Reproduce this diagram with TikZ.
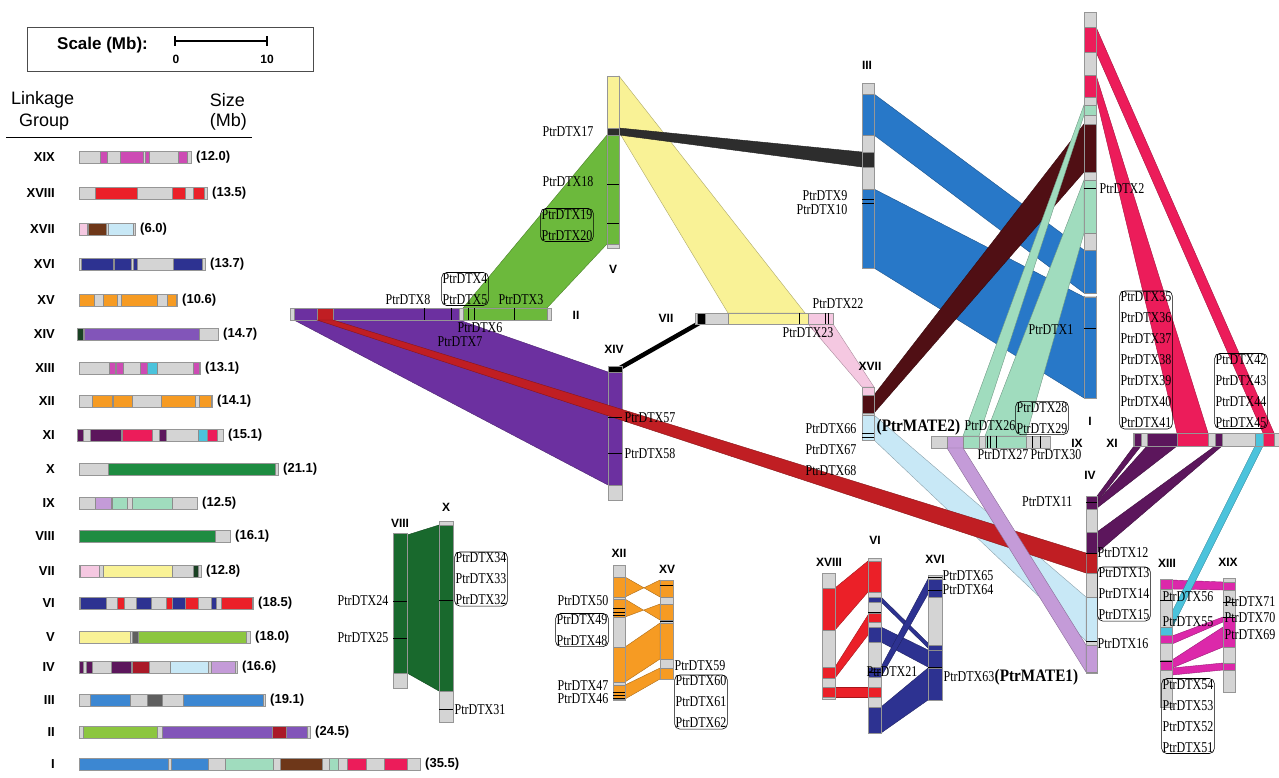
\documentclass[tikz,border=0pt]{standalone}
\usepackage{fontspec}
\setmainfont{Liberation Serif}
\newfontfamily\lsans{Liberation Sans}
\newfontfamily\gfont[FakeStretch=0.8]{Liberation Serif}
\newfontfamily\mfont[FakeStretch=0.87]{Liberation Serif}
\definecolor{cgray}{RGB}{212,212,212}
\definecolor{cgrayd}{RGB}{150,150,150}
\definecolor{cmag}{RGB}{205,75,180}
\definecolor{cmagd}{RGB}{220,40,170}
\definecolor{cred}{RGB}{235,32,40}
\definecolor{cpink}{RGB}{245,200,225}
\definecolor{cbrownl}{RGB}{110,55,25}
\definecolor{cbrown}{RGB}{80,15,20}
\definecolor{clblue}{RGB}{200,232,246}
\definecolor{cdblue}{RGB}{45,50,145}
\definecolor{corange}{RGB}{246,155,35}
\definecolor{cdgreen}{RGB}{25,65,35}
\definecolor{cpurl}{RGB}{130,85,185}
\definecolor{cpur}{RGB}{108,48,160}
\definecolor{ccyan}{RGB}{75,195,220}
\definecolor{cdpur}{RGB}{92,22,92}
\definecolor{chot}{RGB}{236,28,90}
\definecolor{cgreenl}{RGB}{30,140,65}
\definecolor{cgreen}{RGB}{25,105,45}
\definecolor{clilac}{RGB}{196,155,216}
\definecolor{cmint}{RGB}{160,220,190}
\definecolor{cyel}{RGB}{249,242,150}
\definecolor{cdgray}{RGB}{95,95,95}
\definecolor{clime}{RGB}{140,198,63}
\definecolor{climed}{RGB}{108,185,60}
\definecolor{cdred}{RGB}{170,25,40}
\definecolor{cdredd}{RGB}{192,30,35}
\definecolor{cblue}{RGB}{60,135,210}
\definecolor{cblued}{RGB}{40,120,200}
\definecolor{cblack}{RGB}{45,45,45}
\newcommand\lgrow[6]{%
 \fill[cgray] (#3,#2-6) rectangle (#4,#2+6);
 \foreach \sa/\sb/\sc in {#6}{\fill[sg=\sc] (\sa,#2-6) rectangle (\sb,#2+6);}
 \draw[chrbar] (#3,#2-6) rectangle (#4,#2+6);
 \node[lgr] (lr#2) at (55,#2) {#1};
 \node[lgs] (ls#2) at (#4+5,#2) {#5};}
\newcommand\chV[5]{%
 \fill[cgray] (#1,#3) rectangle (#2,#4);
 \foreach \sa/\sb/\sc in {#5}{\fill[sg=\sc] (#1,\sa) rectangle (#2,\sb);}
 \draw[chrbar] (#1,#3) rectangle (#2,#4);}
\newcommand\chH[5]{%
 \fill[cgray] (#1,#3) rectangle (#2,#4);
 \foreach \sa/\sb/\sc in {#5}{\fill[sg=\sc] (\sa,#3) rectangle (\sb,#4);}
 \draw[chrbar] (#1,#3) rectangle (#2,#4);}
\newcommand\tkv[3]{\draw[tk] (#1,#3) -- (#2,#3);}
\newcommand\tkh[3]{\draw[tk] (#3,#1) -- (#3,#2);}
\begin{document}
\begin{tikzpicture}[x=1pt,y=-1pt,
 chrbar/.style={draw=cgrayd,line width=0.6pt},
 sg/.style={fill=#1,draw=black!45,line width=0.3pt},
 rib/.style={fill=#1,draw=#1!70!black,line width=0.4pt},
 tk/.style={draw=black,line width=0.8pt},
 gl/.style={font=\gfont\fontsize{15}{17}\selectfont,inner sep=0.5pt},
 gbox/.style={draw,rounded corners=5pt,inner sep=1pt,align=center,font=\gfont\fontsize{15}{21}\selectfont,line width=0.6pt},
 mate/.style={font=\mfont\bfseries\fontsize{17.5}{19}\selectfont,inner sep=0.5pt},
 rl/.style={font=\lsans\bfseries\fontsize{12}{14}\selectfont,inner sep=0pt},
 lgr/.style={font=\lsans\bfseries\fontsize{13}{15}\selectfont,anchor=east,inner sep=0pt},
 lgs/.style={font=\lsans\bfseries\fontsize{13}{15}\selectfont,anchor=west,inner sep=0pt}]
\useasboundingbox (0,0) rectangle (1279,777);
\fill[white] (0,0) rectangle (1279,777);
% ---------- legend ----------
\draw[line width=0.8pt,black!70] (27,27) rectangle (313,71);
\node[font=\lsans\bfseries\fontsize{17}{19}\selectfont,anchor=west,inner sep=0pt] (scl) at (57,45) {Scale (Mb):};
\draw[line width=1.6pt] (175,41) -- (267,41);
\draw[line width=1.4pt] (175,36) -- (175,46) (267,36) -- (267,46);
\node[font=\lsans\bfseries\fontsize{12}{14}\selectfont,inner sep=0pt] (s0) at (176,59) {0};
\node[font=\lsans\bfseries\fontsize{12}{14}\selectfont,inner sep=0pt] (s10) at (267,59) {10};
\node[font=\lsans\fontsize{18}{20}\selectfont,anchor=west,inner sep=0pt] (lk) at (11,100) {Linkage};
\node[font=\lsans\fontsize{18}{20}\selectfont,anchor=west,inner sep=0pt] (gp) at (19,122) {Group};
\node[font=\lsans\fontsize{18}{20}\selectfont,anchor=east,inner sep=0pt] (sz) at (245,100) {Size};
\node[font=\lsans\fontsize{18}{20}\selectfont,anchor=east,inner sep=0pt] (mb) at (247,122) {(Mb)};
\draw[line width=1pt] (6,137) -- (252,137);
\lgrow{XIX}{157}{79}{191}{(12.0)}{100/107/cmag,120/143/cmag,145/149/cmag,178/187/cmag}
\lgrow{XVIII}{193}{79}{207}{(13.5)}{95/137/cred,172/185/cred,193/204/cred}
\lgrow{XVII}{229}{79}{135}{(6.0)}{79/87/cpink,88/106/cbrownl,108/133/clblue}
\lgrow{XVI}{264}{79}{205}{(13.7)}{81/113/cdblue,114/131/cdblue,133/137/cdblue,173/202/cdblue}
\lgrow{XV}{300}{79}{177}{(10.6)}{79/94/corange,103/117/corange,121/157/corange,167/176/corange}
\lgrow{XIV}{334}{77}{218}{(14.7)}{77/83/cdgreen,84/199/cpurl}
\lgrow{XIII}{368}{79}{200}{(13.1)}{109/115/cmag,116/123/cmag,140/147/cmag,147/157/ccyan,193/199/cmag}
\lgrow{XII}{401}{79}{212}{(14.1)}{92/112/corange,113/132/corange,161/195/corange,199/211/corange}
\lgrow{XI}{435}{77}{223}{(15.1)}{77/83/cdpur,90/121/cdpur,122/152/chot,159/166/cdpur,198/207/ccyan,207/217/chot}
\lgrow{X}{469}{79}{278}{(21.1)}{108/275/cgreenl}
\lgrow{IX}{503}{79}{197}{(12.5)}{95/111/clilac,112/127/cmint,132/172/cmint}
\lgrow{VIII}{536}{79}{230}{(16.1)}{79/215/cgreenl}
\lgrow{VII}{571}{79}{201}{(12.8)}{80/99/cpink,103/172/cyel,193/198/cdgreen}
\lgrow{VI}{603}{79}{253}{(18.5)}{80/106/cdblue,117/124/cred,136/151/cdblue,166/172/cred,172/185/cdblue,185/198/cred,211/216/cdblue,221/252/cred}
\lgrow{V}{637}{79}{250}{(18.0)}{79/130/cyel,132/138/cdgray,138/246/clime}
\lgrow{IV}{667}{79}{237}{(16.6)}{79/83/cdpur,86/92/cdpur,111/131/cdpur,132/149/cdred,170/208/clblue,211/235/clilac}
\lgrow{III}{700}{79}{265}{(19.1)}{90/130/cblue,147/162/cdgray,183/263/cblue}
\lgrow{II}{732}{79}{310}{(24.5)}{83/157/clime,162/272/cpurl,272/286/cdred,286/307/cpurl}
\lgrow{I}{764}{79}{420}{(35.5)}{79/168/cblue,171/208/cblue,225/273/cmint,280/322/cbrownl,329/338/cmint,347/366/chot,384/407/chot}
% ---------- ribbons ----------
\filldraw[rib=cpur] (294,320) -- (459,320) -- (608,372) -- (608,485) -- cycle;
\filldraw[rib=climed] (607,135) -- (463,308) -- (547,308) -- (607,244) -- cycle;
\filldraw[rib=cyel] (619,76) -- (805,313) -- (728,313) -- (619,132) -- cycle;
\filldraw[rib=cblack] (619,128) -- (862,152) -- (862,167) -- (619,135) -- cycle;
\draw[line width=4.5pt] (701,322) -- (620,368);
\filldraw[rib=cblued] (874,94) -- (1084,250) -- (1084,293) -- (874,135) -- cycle;
\filldraw[rib=cblued] (874,189) -- (1084,297) -- (1084,398) -- (874,268) -- cycle;
\filldraw[rib=cbrown] (874,395) -- (1084,124) -- (1084,172) -- (874,413) -- cycle;
\filldraw[rib=cmint] (963,436) -- (1084,105) -- (1084,115) -- (979,436) -- cycle;
\filldraw[rib=cmint] (985,436) -- (1084,180) -- (1084,233) -- (1026,436) -- cycle;
\filldraw[rib=cpink] (808,324) -- (833,324) -- (874,387) -- (862,387) -- cycle;
\filldraw[rib=clblue] (874,415) -- (1086,597) -- (1086,641) -- (874,440) -- cycle;
\filldraw[rib=chot] (1096,27) -- (1274,433) -- (1263,433) -- (1096,52) -- cycle;
\filldraw[rib=chot] (1096,75) -- (1208,433) -- (1177,433) -- (1096,97) -- cycle;
\filldraw[rib=cdpur] (1134,446) -- (1141,446) -- (1097,502) -- (1097,496) -- cycle;
\filldraw[rib=cdpur] (1147,446) -- (1177,446) -- (1097,508) -- (1097,502) -- cycle;
\filldraw[rib=cdpur] (1215,446) -- (1222,446) -- (1097,553) -- (1097,532) -- cycle;
\filldraw[rib=cmagd] (1172,580) -- (1223,582) -- (1223,590) -- (1172,589) -- cycle;
\filldraw[rib=cmagd] (1172,636) -- (1223,617) -- (1223,622) -- (1172,644) -- cycle;
\filldraw[rib=cmagd] (1172,660) -- (1223,627) -- (1223,647) -- (1172,668) -- cycle;
\filldraw[rib=cmagd] (1172,668) -- (1223,663) -- (1223,670) -- (1172,675) -- cycle;
\filldraw[rib=ccyan] (1255,446) -- (1263,446) -- (1172,628) -- (1164,628) -- cycle;
\filldraw[rib=cred] (835,588) -- (868,561) -- (868,592) -- (835,630) -- cycle;
\filldraw[rib=cred] (835,667) -- (868,615) -- (868,635) -- (835,678) -- cycle;
\filldraw[rib=cred] (835,687) -- (868,687) -- (868,697) -- (835,697) -- cycle;
\filldraw[rib=cdblue] (881,597) -- (928,643) -- (928,648) -- (881,602) -- cycle;
\filldraw[rib=cdblue] (881,627) -- (928,650) -- (928,667) -- (881,642) -- cycle;
\filldraw[rib=cdblue] (881,667) -- (928,579) -- (928,594) -- (881,677) -- cycle;
\filldraw[rib=cdblue] (881,707) -- (928,668) -- (928,700) -- (881,733) -- cycle;
\filldraw[rib=cgreen] (407,535) -- (439,525) -- (439,691) -- (407,673) -- cycle;
\filldraw[rib=corange] (625,577) -- (660,597) -- (660,580) -- (625,597) -- cycle;
\filldraw[rib=corange] (625,599) -- (660,620) -- (660,604) -- (625,617) -- cycle;
\filldraw[rib=corange] (625,647) -- (660,623) -- (660,659) -- (625,682) -- cycle;
\filldraw[rib=corange] (625,685) -- (660,668) -- (660,679) -- (625,699) -- cycle;
% ---------- chromosome bars ----------
\chH{290}{551}{308}{320}{294/459/cpur,317/333/cdredd,463/547/climed}
\chV{607}{619}{76}{248}{76/128/cyel,128/135/cblack,135/244/climed}
\chV{608}{622}{366}{500}{366/372/black,372/485/cpur}
\chH{695}{833}{313}{324}{697/705/black,728/808/cyel,808/833/cpink}
\chV{862}{874}{83}{268}{94/135/cblued,152/167/cblack,189/268/cblued}
\chV{862}{874}{387}{440}{387/395/cpink,395/413/cbrown,415/440/clblue}
\chV{1084}{1096}{12}{398}{27/52/chot,75/97/chot,105/115/cmint,124/172/cbrown,180/233/cmint,250/293/cblued,297/398/cblued}
\fill[white] (1083,293.6) rectangle (1097,296.4);
\chH{931}{1050}{436}{448}{947/963/clilac,963/979/cmint,985/1026/cmint}
\chH{1133}{1283}{433}{446}{1134/1141/cdpur,1147/1177/cdpur,1177/1208/chot,1215/1222/cdpur,1255/1263/ccyan,1263/1274/chot}
\chV{1086}{1097}{496}{673}{496/509/cdpur,532/553/cdpur,553/573/cdredd,597/641/clblue,645/672/clilac}
\chV{1160}{1172}{579}{707}{579/589/cmagd,627/635/ccyan,635/643/cmagd,660/670/cmagd}
\chV{1223}{1235}{578}{692}{582/590/cmagd,617/647/cmagd,663/670/cmagd}
\chV{822}{835}{573}{699}{588/630/cred,667/678/cred,687/697/cred}
\chV{868}{881}{558}{733}{561/592/cred,597/602/cdblue,613/622/cred,627/642/cdblue,667/677/cdblue,687/697/cred,707/733/cdblue}
\chV{928}{942}{575}{700}{579/597/cdblue,645/650/cdblue,650/667/cdblue,668/700/cdblue}
\chV{393}{407}{533}{688}{533/673/cgreen}
\chV{439}{453}{521}{722}{525/691/cgreen}
\chV{613}{625}{565}{700}{577/597/corange,599/617/corange,647/682/corange,685/699/corange}
\chV{660}{673}{580}{679}{580/597/corange,604/620/corange,623/659/corange,668/679/corange}
% ribbons drawn over bars
\filldraw[rib=cdredd] (317,320) -- (333,320) -- (1086,553) -- (1086,573) -- cycle;
\filldraw[rib=clilac] (947,448) -- (963,448) -- (1086,645) -- (1086,672) -- cycle;
% ---------- ticks ----------
\foreach \t in {424,451,468,474,514} {\tkh{308}{320}{\t}}
\tkv{607}{619}{184} \tkv{607}{619}{223}
\tkv{608}{622}{417} \tkv{608}{622}{453}
\foreach \t in {799,825,828} {\tkh{313}{324}{\t}}
\tkv{862}{874}{199} \tkv{862}{874}{203}
\tkv{862}{874}{433} \tkv{862}{874}{437}
\tkv{1084}{1096}{188} \tkv{1084}{1096}{328}
\foreach \t in {987,990,996,1032,1040} {\tkh{436}{448}{\t}}
\tkv{1086}{1097}{502} \tkv{1086}{1097}{553} \tkv{1086}{1097}{641}
\tkv{1160}{1172}{600} \tkv{1160}{1172}{661}
\tkv{1223}{1235}{602} \tkv{1223}{1235}{617}
\tkv{868}{881}{612} \tkv{868}{881}{672}
\tkv{928}{942}{577} \tkv{928}{942}{590} \tkv{928}{942}{667}
\tkv{393}{407}{601} \tkv{393}{407}{638}
\tkv{439}{453}{600} \tkv{439}{453}{709}
\foreach \t in {608,612,615,692,695,698} {\tkv{613}{625}{\t}}
\tkv{660}{673}{585} \tkv{660}{673}{621}
% ---------- roman labels ----------
\node[rl] (nII) at (576,315) {II};
\node[rl] (nV) at (613,269) {V};
\node[rl] (nVII) at (666,318) {VII};
\node[rl] (nXIV) at (614,349) {XIV};
\node[rl] (nIII) at (867,65) {III};
\node[rl] (nXVII) at (870,366) {XVII};
\node[rl] (nI) at (1090,421) {I};
\node[rl] (nIX) at (1077,443) {IX};
\node[rl] (nXI) at (1112,443) {XI};
\node[rl] (nIV) at (1090,475) {IV};
\node[rl] (nXVIII) at (829,562) {XVIII};
\node[rl] (nVI) at (875,540) {VI};
\node[rl] (nXVI) at (935,559) {XVI};
\node[rl] (nXIII) at (1167,563) {XIII};
\node[rl] (nXIX) at (1228,562) {XIX};
\node[rl] (nVIII) at (400,523) {VIII};
\node[rl] (nX) at (446,507) {X};
\node[rl] (nXII) at (619,553) {XII};
\node[rl] (nXV) at (667,569) {XV};
% ---------- gene labels ----------
\node[gl,anchor=east] (g17) at (594,132) {PtrDTX17};
\node[gl,anchor=east] (g18) at (594,182) {PtrDTX18};
\node[gbox] (b19) at (567,225) {PtrDTX19\\PtrDTX20};
\node[gbox] (b4) at (465,289) {PtrDTX4\\PtrDTX5};
\node[gl,anchor=east] (g8) at (431,300) {PtrDTX8};
\node[gl,anchor=west] (g3) at (498,300) {PtrDTX3};
\node[gl,anchor=west] (g6) at (457,328) {PtrDTX6};
\node[gl,anchor=west] (g7) at (437,342) {PtrDTX7};
\node[gl,anchor=west] (g57) at (624,418) {PtrDTX57};
\node[gl,anchor=west] (g58) at (624,454) {PtrDTX58};
\node[gl,anchor=west] (g22) at (812,304) {PtrDTX22};
\node[gl,anchor=west] (g23) at (782,333) {PtrDTX23};
\node[gl,anchor=east] (g9) at (848,196) {PtrDTX9};
\node[gl,anchor=east] (g10) at (848,210) {PtrDTX10};
\node[gl,anchor=east] (g66) at (857,429) {PtrDTX66};
\node[gl,anchor=east] (g67) at (857,450) {PtrDTX67};
\node[gl,anchor=east] (g68) at (857,471) {PtrDTX68};
\node[mate,anchor=west] (m2) at (876,427) {(PtrMATE2)};
\node[gl,anchor=west] (g26) at (964,426) {PtrDTX26};
\node[gbox] (b28) at (1042,418) {PtrDTX28\\PtrDTX29};
\node[gl,anchor=west] (g27) at (977,455) {PtrDTX27};
\node[gl,anchor=west] (g30) at (1030,455) {PtrDTX30};
\node[gl,anchor=west] (g2) at (1099,189) {PtrDTX2};
\node[gl,anchor=east] (g1) at (1074,330) {PtrDTX1};
\node[gbox] (b35) at (1146,360) {PtrDTX35\\PtrDTX36\\PtrDTX37\\PtrDTX38\\PtrDTX39\\PtrDTX40\\PtrDTX41};
\node[gbox] (b42) at (1241,391) {PtrDTX42\\PtrDTX43\\PtrDTX44\\PtrDTX45};
\node[gl,anchor=east] (g11) at (1073,502) {PtrDTX11};
\node[gl,anchor=west] (g12) at (1097,553) {PtrDTX12};
\node[gbox] (b13) at (1124,594) {PtrDTX13\\PtrDTX14\\PtrDTX15};
\node[gl,anchor=west] (g16) at (1097,644) {PtrDTX16};
\node[gl,anchor=west] (g56) at (1162,597) {PtrDTX56};
\node[gl,anchor=west] (g55) at (1162,622) {PtrDTX55};
\node[gl,anchor=west] (g71) at (1224,602) {PtrDTX71};
\node[gl,anchor=west] (g70) at (1224,618) {PtrDTX70};
\node[gl,anchor=west] (g69) at (1224,635) {PtrDTX69};
\node[gbox] (b51) at (1188,716) {PtrDTX54\\PtrDTX53\\PtrDTX52\\PtrDTX51};
\node[gl,anchor=west] (g65) at (942,576) {PtrDTX65};
\node[gl,anchor=west] (g64) at (942,590) {PtrDTX64};
\node[gl,anchor=west] (g63) at (943,677) {PtrDTX63};
\node[mate,anchor=west] (m1) at (994,677) {(PtrMATE1)};
\node[gl,anchor=west] (g21) at (866,672) {PtrDTX21};
\node[gl,anchor=east] (g24) at (389,601) {PtrDTX24};
\node[gl,anchor=east] (g25) at (389,638) {PtrDTX25};
\node[gbox] (b32) at (481,579) {PtrDTX34\\PtrDTX33\\PtrDTX32};
\node[gl,anchor=west] (g31) at (454,710) {PtrDTX31};
\node[gl,anchor=east] (g50) at (609,601) {PtrDTX50};
\node[gbox] (b48) at (582,630) {PtrDTX49\\PtrDTX48};
\node[gl,anchor=east] (g47) at (609,686) {PtrDTX47};
\node[gl,anchor=east] (g46) at (609,699) {PtrDTX46};
\node[gl,anchor=west] (g59) at (674,666) {PtrDTX59};
\node[gbox] (b60) at (701,702) {PtrDTX60\\PtrDTX61\\PtrDTX62};
\end{tikzpicture}
\end{document}
